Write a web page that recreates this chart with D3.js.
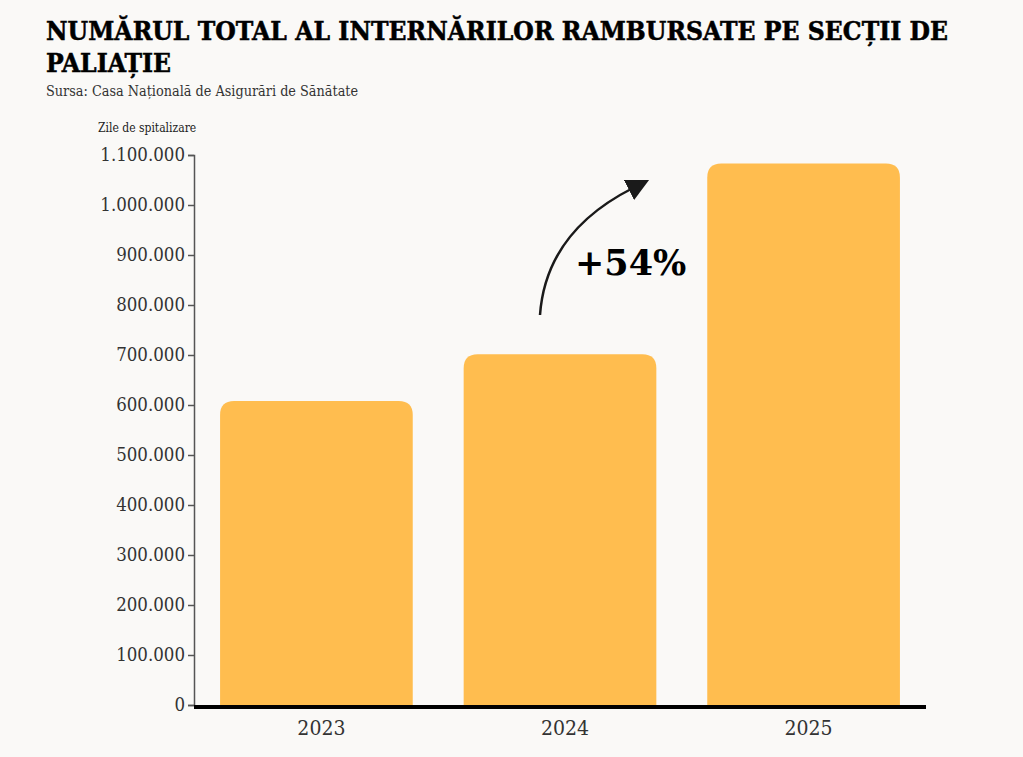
<!DOCTYPE html>
<html>
<head>
<meta charset="utf-8">
<script src="https://cdn.jsdelivr.net/npm/d3@7"></script>
<style>
  body { margin: 0; background: #faf9f7; }
  svg { display: block; }
  text { font-family: "DejaVu Serif", serif; }
</style>
</head>
<body>
<svg id="chart" width="1023" height="757"></svg>
<script>
// data
var YEARS = ["2023", "2024", "2025"];
var VALUES = [608000, 701500, 1083000];
var Y_TICKS = [0, 100000, 200000, 300000, 400000, 500000, 600000, 700000, 800000, 900000, 1000000, 1100000];
var TITLE_LINES = ["NUMĂRUL TOTAL AL INTERNĂRILOR RAMBURSATE PE SECȚII DE", "PALIAȚIE"];
var SOURCE = "Sursa: Casa Națională de Asigurări de Sănătate";
var Y_LABEL = "Zile de spitalizare";
var CHANGE_LABEL = "+54%";

var WIDTH = 1023, HEIGHT = 757;
var LEFT = 194, RIGHT = 926, TOP = 155, BOTTOM = 705;
var BAR_COLOR = "#ffbd4f";
var RADIUS = 14;

var svg = d3.select("#chart");

svg.append("rect")
   .attr("width", WIDTH)
   .attr("height", HEIGHT)
   .attr("fill", "#faf9f7");

// title
svg.append("g").selectAll("text")
   .data(TITLE_LINES)
   .join("text")
   .attr("x", 46)
   .attr("y", function(d, i) { return 40 + i*32; })
   .attr("font-size", "26.2px")
   .attr("font-weight", "bold")
   .attr("font-stretch", "condensed")
   .attr("fill", "#000")
   .attr("stroke", "#000")
   .attr("stroke-width", 0.5)
   .attr("textLength", function(d, i) { return i == 0 ? 902 : null; })
   .text(function(d) { return d; });

svg.append("text")
   .attr("x", 46)
   .attr("y", 96)
   .attr("font-size", "14.3px")
   .attr("font-stretch", "condensed")
   .attr("fill", "#333")
   .text(SOURCE);

svg.append("text")
   .attr("x", 98)
   .attr("y", 132)
   .attr("font-size", "12px")
   .attr("font-stretch", "condensed")
   .attr("fill", "#222")
   .text(Y_LABEL);

// scales
var x = d3.scaleBand()
          .domain(YEARS)
          .range([LEFT, RIGHT])
          .paddingInner(0.209)
          .paddingOuter(0.107);

var y = d3.scaleLinear()
          .domain([0, 1100000])
          .range([BOTTOM, TOP]);

var fmt = d3.formatLocale({decimal: ",", thousands: ".", grouping: [3], currency: ["", ""]}).format(",d");

// bars with rounded top corners
function barPath(d, i)
{
  var x0 = x(YEARS[i]);
  var x1 = x0 + x.bandwidth();
  var yt = y(d);
  var yb = y(0);
  var r = RADIUS;
  return "M" + x0 + "," + yb +
         "L" + x0 + "," + (yt + r) +
         "Q" + x0 + "," + yt + " " + (x0 + r) + "," + yt +
         "L" + (x1 - r) + "," + yt +
         "Q" + x1 + "," + yt + " " + x1 + "," + (yt + r) +
         "L" + x1 + "," + yb + "Z";
}

svg.append("g").selectAll("path")
   .data(VALUES)
   .join("path")
   .attr("d", barPath)
   .attr("fill", BAR_COLOR);

// y axis
var yAxis = svg.append("g")
   .attr("transform", "translate(" + LEFT + ",0)")
   .call(d3.axisLeft(y).tickValues(Y_TICKS).tickFormat(fmt).tickSize(6).tickPadding(3));

yAxis.select(".domain").attr("stroke", "#555").attr("stroke-width", 1.5);
yAxis.selectAll(".tick line").attr("stroke", "#555").attr("stroke-width", 1.5);
yAxis.selectAll(".tick text")
     .attr("font-family", "DejaVu Serif")
     .attr("font-stretch", "condensed")
     .attr("font-size", "18.5px")
     .attr("fill", "#333");

// baseline
svg.append("line")
   .attr("x1", LEFT)
   .attr("x2", RIGHT)
   .attr("y1", y(0) + 2)
   .attr("y2", y(0) + 2)
   .attr("stroke", "#000")
   .attr("stroke-width", 4);

// x labels
svg.append("g").selectAll("text")
   .data(YEARS)
   .join("text")
   .attr("x", function(d) { return x(d) + x.bandwidth()/2 + 5; })
   .attr("y", 735)
   .attr("text-anchor", "middle")
   .attr("font-size", "21px")
   .attr("font-stretch", "condensed")
   .attr("fill", "#333")
   .text(function(d) { return d; });

// annotation arrow
svg.append("defs").append("marker")
   .attr("id", "head")
   .attr("viewBox", "0 0 10 10")
   .attr("refX", 2)
   .attr("refY", 5)
   .attr("markerWidth", 9)
   .attr("markerHeight", 9)
   .attr("orient", "auto")
   .append("path")
   .attr("d", "M0,0L10,5L0,10Z")
   .attr("fill", "#1a1a1a");

svg.append("path")
   .attr("d", "M540,315 Q546,232 633,188")
   .attr("fill", "none")
   .attr("stroke", "#1a1a1a")
   .attr("stroke-width", 2.5)
   .attr("marker-end", "url(#head)");

svg.append("text")
   .attr("x", 575)
   .attr("y", 275)
   .attr("font-size", "35px")
   .attr("font-weight", "bold")
   .attr("fill", "#000")
   .text(CHANGE_LABEL);
</script>
</body>
</html>
